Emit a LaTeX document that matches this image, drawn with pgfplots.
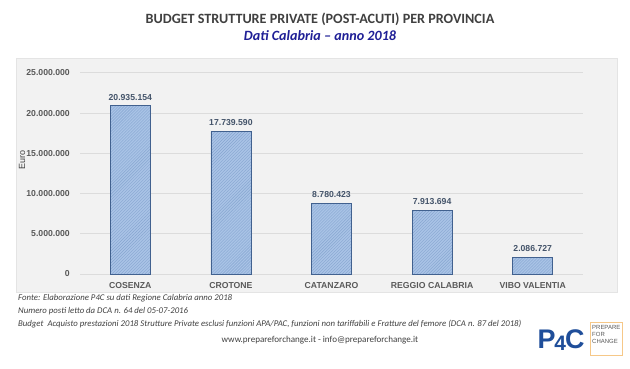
\documentclass[border=0pt]{standalone}
\usepackage{fontspec}
\setmainfont{Carlito}
\newfontfamily\arial{Liberation Sans}
\usepackage{pgfplots}
\pgfplotsset{compat=1.18}
\usetikzlibrary{patterns}
\definecolor{panel}{HTML}{F2F2F2}
\definecolor{panelborder}{HTML}{E4E4E4}
\definecolor{gridgray}{HTML}{DCDCDC}
\definecolor{ticklab}{HTML}{595959}
\definecolor{datalab}{HTML}{44546A}
\definecolor{barfill}{HTML}{A9C3E6}
\definecolor{barhatch}{HTML}{86A5D0}
\definecolor{barborder}{HTML}{41618F}
\definecolor{titlegray}{HTML}{404040}
\definecolor{subblue}{HTML}{1F1F96}
\definecolor{logoblue}{HTML}{1F4E9A}
\definecolor{logoorange}{HTML}{F6C888}
\begin{document}
\begin{tikzpicture}[x=1bp,y=1bp]
\path[fill=white] (0,0) rectangle (630,368);
\fill[panel,draw=panelborder] (16,76) rectangle (617,310);
\node[font=\bfseries\fontsize{14.2}{16}\selectfont, text=titlegray] at (320,348.5) {BUDGET STRUTTURE PRIVATE (POST-ACUTI) PER PROVINCIA};
\node[font=\bfseries\itshape\fontsize{14.2}{16}\selectfont, text=subblue] at (320,332.5) {Dati Calabria -- anno 2018};
\node[rotate=90, font=\arial\fontsize{9}{10}\selectfont, text=titlegray] at (22,208) {Euro};
\begin{axis}[
  at={(80bp,94bp)}, anchor=south west,
  scale only axis, width=503bp, height=201bp,
  xmin=-0.5, xmax=4.5, ymin=0, ymax=25000000,
  ybar, bar width=40bp,
  axis line style={draw=none},
  major tick length=0pt,
  ymajorgrids, grid style={gridgray, line width=1bp},
  ytick={0,5000000,10000000,15000000,20000000,25000000},
  xtick={0,1,2,3,4},
  xticklabels={COSENZA,CROTONE,CATANZARO,REGGIO CALABRIA,VIBO VALENTIA},
  scaled y ticks=false,
  tick label style={font=\arial\bfseries\fontsize{8.7}{10}\selectfont, text=ticklab},
  yticklabel style={inner sep=0pt, anchor=east, xshift=-10bp, /pgf/number format/.cd, fixed, precision=0, 1000 sep={.}, assume math mode=true},
  xticklabel style={inner sep=0pt, anchor=north, yshift=-8bp},
  clip=false,
  nodes near coords,
  point meta=explicit symbolic,
  nodes near coords style={font=\arial\bfseries\fontsize{8.7}{10}\selectfont, text=datalab, anchor=south, inner sep=0pt, yshift=5bp},
]
\addplot[fill=barfill, draw=barborder, line width=0.8bp, postaction={pattern=north east lines, pattern color=barhatch}] coordinates {
  (0,20935154) [20.935.154]
  (1,17739590) [17.739.590]
  (2,8780423) [8.780.423]
  (3,7913694) [7.913.694]
  (4,2086727) [2.086.727]
};
\end{axis}
\begin{scope}[font=\itshape\fontsize{8.8}{10}\selectfont, text=titlegray]
\node[anchor=west, inner sep=0pt] at (18,70) {Fonte: Elaborazione P4C su dati Regione Calabria anno 2018};
\node[anchor=west, inner sep=0pt] at (18,57) {Numero posti letto da DCA n. 64 del 05-07-2016};
\node[anchor=west, inner sep=0pt] at (18,44) {Budget\ \ Acquisto prestazioni 2018 Strutture Private esclusi funzioni APA/PAC, funzioni non tariffabili e Fratture del femore (DCA n. 87 del 2018)};
\end{scope}
\node[font=\fontsize{9.1}{10}\selectfont, text=titlegray] at (320,28) {www.prepareforchange.it - info@prepareforchange.it};
\node[font=\arial\bfseries\fontsize{27}{28}\selectfont, text=logoblue, inner sep=0pt] at (561,28) {P\kern-1bp\raisebox{-2bp}{\fontsize{21}{22}\selectfont 4}\kern-1bp C};
\draw[logoorange, line width=1bp] (590,13) rectangle (622,46);
\node[align=left, anchor=north west, inner sep=0pt, font=\arial\fontsize{6}{7}\selectfont, text=ticklab] at (592,43) {PREPARE\\FOR\\CHANGE};
\end{tikzpicture}
\end{document}
